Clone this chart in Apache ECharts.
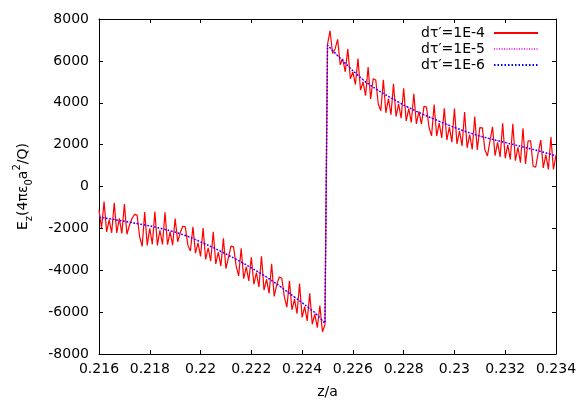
<!DOCTYPE html>
<html>
<head>
<meta charset="utf-8">
<script src="https://cdn.jsdelivr.net/npm/echarts@6/dist/echarts.min.js"></script>
<style>html,body{margin:0;padding:0;background:#fff;}#c{width:578px;height:401px;}</style>
</head>
<body>
<div id="c"></div>
<script>
// abscissa grid of the noisy run (dτ'=1E-4)
const redZStartLeft = 0.216, redZStartRight = 0.225, redZStep = 0.0001;
// dτ'=1E-4, z = 0.2160 ... 0.2249
const redLeft = [
-1110, -1980, -720, -2170, -1590, -2210, -780, -2220, -1520, -2240,
-840, -2280, -1850, -1530, -1330, -1370, -2390, -2860, -1220, -2810,
-2000, -2760, -1200, -2810, -2090, -2770, -1230, -2780, -2170, -2800,
-1530, -2640, -2210, -1900, -1930, -2800, -3080, -1920, -3180, -2690,
-3340, -1980, -3480, -2930, -3560, -2160, -3700, -3140, -3800, -2480,
-3920, -3380, -2850, -2880, -3780, -4270, -2950, -4400, -3840, -4510,
-3380, -4670, -4110, -4800, -3330, -4950, -4430, -5110, -3690, -5250,
-4700, -4320, -4380, -5270, -5760, -4500, -5890, -5380, -6070, -4630,
-6250, -5740, -6420, -5100, -6580, -6100, -6740, -5690, -6940, -6600
];
// dτ'=1E-4, z = 0.2250 ... 0.2340
const redRight = [
6780, 7440, 6350, 6570, 7030, 5820, 6100, 5480, 6570, 5150,
5480, 4870, 6110, 4610, 5000, 4340, 5710, 4180, 5150, 5090,
3940, 3620, 5100, 3520, 4200, 3430, 4910, 3340, 3950, 3260,
4690, 3130, 3720, 3060, 4430, 2990, 3590, 2980, 3830, 3790,
2820, 2420, 3920, 2410, 3030, 2320, 3730, 2220, 2840, 2120,
3720, 2030, 2650, 1940, 3560, 1850, 2480, 1770, 3340, 1750,
2810, 2800, 1750, 1460, 2180, 2850, 1470, 2110, 1410, 3020,
1350, 1990, 1290, 2990, 1230, 1870, 1140, 2780, 1080, 2180,
2180, 970, 920, 1620, 2220, 890, 1520, 820, 2360, 820,
1510
];
// smooth runs
const smoothZ = [0.216,0.2165,0.217,0.2175,0.218,0.2185,0.219,0.2195,0.22,0.2205,0.221,0.2215,0.222,0.2225,0.223,0.2235,0.224,0.2245,0.2249,
0.225,0.2255,0.226,0.2265,0.227,0.2275,0.228,0.2285,0.229,0.2295,0.23,0.2305,0.231,0.2315,0.232,0.2325,0.233,0.2335,0.234];
const dt5 = [-1460,-1560,-1660,-1770,-1880,-2020,-2180,-2380,-2640,-2920,-3220,-3540,-3880,-4250,-4650,-5100,-5550,-6020,-6530,
6750,6120,5530,4990,4590,4230,3890,3590,3320,3060,2820,2600,2410,2250,2100,1950,1800,1640,1460];
const dt6 = [-1460,-1560,-1660,-1770,-1880,-2020,-2180,-2380,-2640,-2920,-3220,-3540,-3880,-4250,-4650,-5100,-5550,-6020,-6530,
6750,6120,5530,4990,4590,4230,3890,3590,3320,3060,2820,2600,2410,2250,2100,1950,1800,1640,1460];
const seriesNames = ["dτ′=1E-4", "dτ′=1E-5", "dτ′=1E-6"];
const xMin = 0.216, xMax = 0.234, xStep = 0.002;
const yMin = -8000, yMax = 8000, yStep = 2000;

const redData = [];
redLeft.forEach((v, i) => redData.push([+(redZStartLeft + i * redZStep).toFixed(4), v]));
redRight.forEach((v, j) => redData.push([+(redZStartRight + j * redZStep).toFixed(4), v]));
const d5 = smoothZ.map((z, i) => [z, dt5[i]]);
const d6 = smoothZ.map((z, i) => [z, dt6[i]]);

const FONT = 'DejaVu Sans';
const FS = 14;
const chart = echarts.init(document.getElementById('c'), null, {renderer: 'canvas'});
const tick = {show: true, inside: true, length: 4, lineStyle: {color: '#000', width: 1}};
const axLine = {show: true, onZero: false, lineStyle: {color: '#000', width: 1}};
chart.setOption({
  animation: false,
  backgroundColor: '#fff',
  textStyle: {fontFamily: FONT},
  grid: {left: 99, right: 22, top: 19, bottom: 47, containLabel: false, outerBoundsMode: 'none'},
  legend: {
    data: seriesNames,
    orient: 'vertical',
    right: 34, top: 21,
    align: 'right',
    itemWidth: 44, itemHeight: 14, itemGap: 2,
    selectedMode: false,
    itemStyle: {color: 'rgba(0,0,0,0)', borderWidth: 0, opacity: 0},
    textStyle: {fontFamily: FONT, fontSize: FS, color: '#000', padding: [0, 4, 0, 0]}
  },
  xAxis: [{
    type: 'value', min: xMin, max: xMax, interval: xStep,
    name: 'z/a', nameLocation: 'middle', nameGap: 31,
    nameTextStyle: {fontFamily: FONT, fontSize: FS, color: '#000'},
    axisLine: axLine, axisTick: tick, splitLine: {show: false},
    axisLabel: {fontFamily: FONT, fontSize: FS, color: '#000', margin: 8,
      formatter: v => String(+v.toFixed(3))}
  }, {
    type: 'value', position: 'top', min: xMin, max: xMax, interval: xStep,
    axisLine: axLine, axisTick: tick, splitLine: {show: false}, axisLabel: {show: false}
  }],
  yAxis: [{
    type: 'value', min: yMin, max: yMax, interval: yStep,
    name: '{n|E}{s|z}{n|(4πε}{s|0}{n|a}{p|2}{n|/Q)}',
    nameLocation: 'middle', nameGap: 65, nameRotate: 90,
    nameTextStyle: {fontFamily: FONT, fontSize: FS, color: '#000',
      rich: {
        n: {fontFamily: FONT, fontSize: FS, color: '#000', lineHeight: 22},
        s: {fontFamily: FONT, fontSize: 10, color: '#000', lineHeight: 12, verticalAlign: 'bottom'},
        p: {fontFamily: FONT, fontSize: 10, color: '#000', lineHeight: 12, verticalAlign: 'top'}
      }},
    axisLine: axLine, axisTick: tick, splitLine: {show: false},
    axisLabel: {fontFamily: FONT, fontSize: FS, color: '#000', margin: 10,
      formatter: v => String(v)}
  }, {
    type: 'value', position: 'right', min: yMin, max: yMax, interval: yStep,
    axisLine: axLine, axisTick: tick, splitLine: {show: false}, axisLabel: {show: false}
  }],
  series: [{
    name: seriesNames[0], type: 'line', data: redData, showSymbol: false, symbol: 'none',
    lineStyle: {color: '#ff0000', width: 1.2}, itemStyle: {color: '#ff0000'}, z: 2
  }, {
    name: seriesNames[1], type: 'line', data: d5, showSymbol: false, symbol: 'none',
    lineStyle: {color: '#ff33ff', width: 1.2, type: [1, 1.5]}, itemStyle: {color: '#ff33ff'}, z: 3
  }, {
    name: seriesNames[2], type: 'line', data: d6, showSymbol: false, symbol: 'none',
    lineStyle: {color: '#0000ff', width: 1.5, type: [1.5, 2]}, itemStyle: {color: '#0000ff'}, z: 4
  }]
});
</script>
</body>
</html>
